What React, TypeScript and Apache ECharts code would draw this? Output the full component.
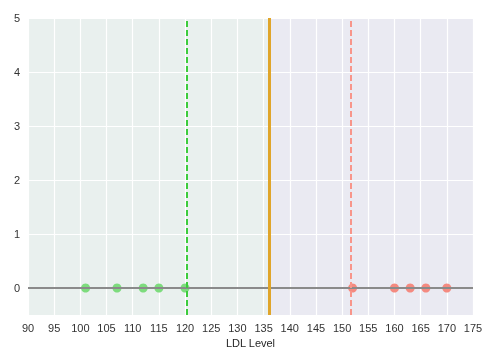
import React, { useEffect, useRef } from "react";
import * as echarts from "echarts";

const lowLdl = [101, 107, 112, 115, 120];
const highLdl = [152, 160, 163, 166, 170];
const boundary = 136;
const lowerMargin = 120.4;
const upperMargin = 151.6;
const yTicks = [0, 1, 2, 3, 4, 5];
const xMin = 90;
const xMax = 175;

export default function App() {
  const ref = useRef<HTMLDivElement>(null);
  useEffect(() => {
    const chart = echarts.init(ref.current!, undefined, { renderer: "svg" });
    const font = "'Liberation Sans', Arial, sans-serif";
    chart.setOption({
      animation: false,
      grid: {
        left: 28,
        right: 19,
        top: 18,
        bottom: 42,
        show: true,
        backgroundColor: "#eaeaf2",
        borderWidth: 0,
      },
      xAxis: {
        type: "value",
        min: xMin,
        max: xMax,
        interval: 5,
        z: 1.5,
        name: "LDL Level",
        nameLocation: "middle",
        nameGap: 21,
        nameTextStyle: { color: "#262626", fontSize: 11, fontFamily: font },
        axisLine: { show: false },
        axisTick: { show: false },
        axisLabel: { color: "#333", fontSize: 11, fontFamily: font, margin: 7 },
        splitLine: { show: true, lineStyle: { color: "#ffffff", width: 1.2 } },
      },
      yAxis: {
        type: "value",
        min: -0.5,
        max: 5,
        z: 1.5,
        axisLine: { show: false },
        axisTick: { show: false, customValues: yTicks },
        axisLabel: { color: "#333", fontSize: 11, fontFamily: font, margin: 8, customValues: yTicks },
        splitLine: { show: true, lineStyle: { color: "#ffffff", width: 1.2 } },
      },
      series: [
        {
          type: "scatter",
          data: [],
          markArea: {
            silent: true,
            itemStyle: { color: "#e9f0ee" },
            data: [[{ xAxis: xMin }, { xAxis: boundary }]],
          },
        },
        {
          type: "scatter",
          z: 2,
          symbolSize: 9,
          itemStyle: { color: "#7ddc7d", opacity: 1 },
          data: lowLdl.map((v) => [v, 0]),
        },
        {
          type: "scatter",
          z: 2,
          symbolSize: 9,
          itemStyle: { color: "#f48a80", opacity: 1 },
          data: highLdl.map((v) => [v, 0]),
          markLine: {
            silent: true,
            symbol: "none",
            label: { show: false },
            z: 5,
            data: [
              { yAxis: 0, lineStyle: { color: "#8a8a8a", width: 2, type: "solid" } },
              { xAxis: lowerMargin, lineStyle: { color: "#3ccc3c", width: 2, type: [6, 3] } },
              { xAxis: boundary, lineStyle: { color: "#e0a52a", width: 3, type: "solid" } },
              { xAxis: upperMargin, lineStyle: { color: "#f8958a", width: 2, type: [6, 3] } },
            ],
          },
        },
      ],
    });
    return () => chart.dispose();
  }, []);
  return (
    <div style={{ position: "fixed", left: 0, top: 0, width: 492, height: 357 }}>
      <div ref={ref} style={{ width: 492, height: 357 }} />
    </div>
  );
}
